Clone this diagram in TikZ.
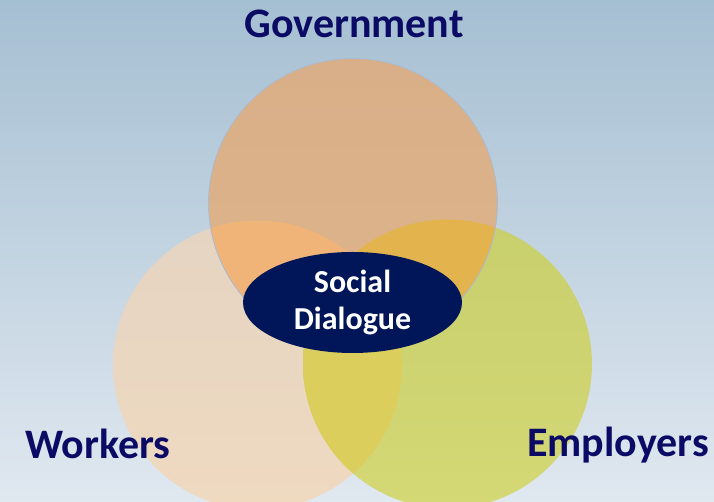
\documentclass[tikz,border=0pt]{standalone}
\usepackage{fontspec}
\setmainfont{Carlito}
\usetikzlibrary{shapes.geometric}
\definecolor{bgtop}{HTML}{A5BFD2}
\definecolor{bgbot}{HTML}{E0E8F0}
\definecolor{govtop}{HTML}{D8AF88}
\definecolor{govbot}{HTML}{DFB48B}
\definecolor{worktop}{HTML}{E5D4C3}
\definecolor{workbot}{HTML}{EFDAC0}
\definecolor{emptop}{HTML}{C8CF6D}
\definecolor{empbot}{HTML}{D4D875}
\definecolor{gwcol}{HTML}{F0B378}
\definecolor{gecol}{HTML}{E3B34D}
\definecolor{wecol}{HTML}{DBCE5C}
\definecolor{govline}{HTML}{A9BCD6}
\definecolor{sdnavy}{HTML}{011658}
\definecolor{labnavy}{HTML}{0B0B66}
\tikzset{
  label text/.style={font=\fontsize{42}{48}\selectfont\bfseries, text=labnavy, inner sep=0pt},
}
\begin{document}
\begin{tikzpicture}[x=1pt,y=1pt]
\useasboundingbox (0,0) rectangle (714,502);
\shade[top color=bgtop, bottom color=bgbot] (0,0) rectangle (714,502);
% circles
\coordinate (gc) at (353,299);
\coordinate (wc) at (257.5,137);
\coordinate (ec) at (447.5,138);
\shade[top color=worktop, bottom color=workbot] (wc) circle[radius=144.5pt];
\shade[top color=emptop, bottom color=empbot] (ec) circle[radius=144.5pt];
\shade[top color=govtop, bottom color=govbot] (gc) circle[radius=144.5pt];
% intersections
\begin{scope}
  \clip (gc) circle[radius=144.5pt];
  \fill[gwcol] (wc) circle[radius=144.5pt];
  \fill[gecol] (ec) circle[radius=144.5pt];
\end{scope}
\begin{scope}
  \clip (wc) circle[radius=144.5pt];
  \fill[wecol] (ec) circle[radius=144.5pt];
\end{scope}
\draw[govline, line width=0.8pt] (gc) circle[radius=144.5pt];
% central ellipse
\node[ellipse, fill=sdnavy, minimum width=219pt, minimum height=101pt, inner sep=0pt,
      text=white, align=center, font=\fontsize{32}{37}\selectfont\bfseries] (sd) at (352.5,199.5) {Social\\Dialogue};
% labels
\node[label text, anchor=base] (gov) at (354,464) {Government};
\node[label text, anchor=base west] (work) at (25,43) {Workers};
\node[label text, anchor=base west] (emp) at (527,45) {Employers};
\end{tikzpicture}
\end{document}
